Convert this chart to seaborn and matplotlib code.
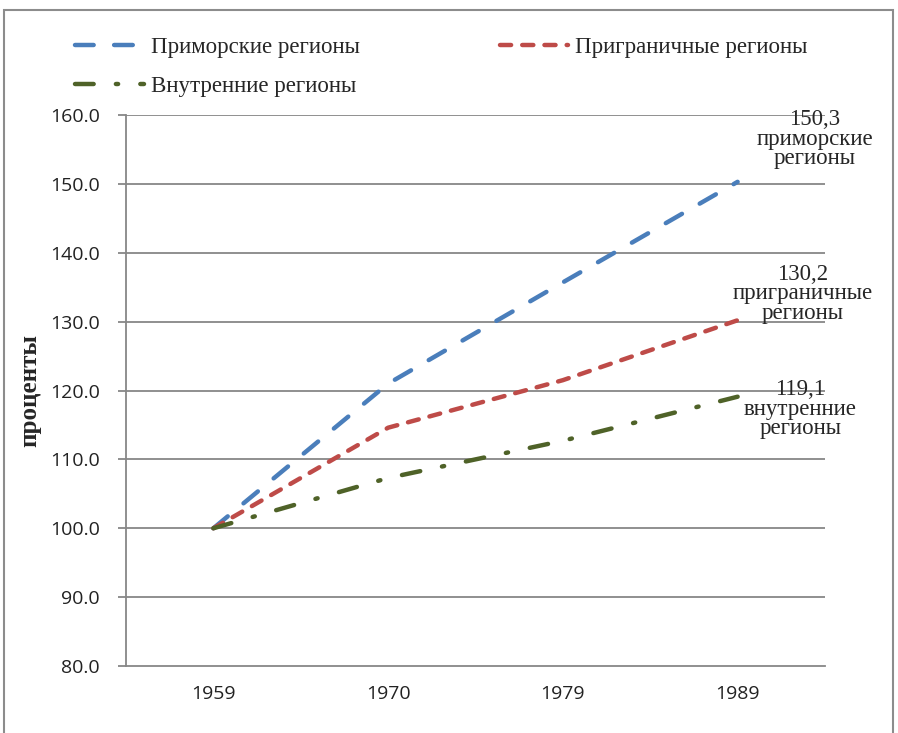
import numpy as np
import pandas as pd
import seaborn as sns
import matplotlib.pyplot as plt
from matplotlib.lines import Line2D
from matplotlib.patches import Rectangle

# data
years = ['1959', '1970', '1979', '1989']
primorskie = [100.0, 121.0, 135.7, 150.3]
pogranichnye = [100.0, 114.6, 121.5, 130.2]
vnutrennie = [100.0, 107.3, 112.7, 119.1]
names = ['Приморские регионы', 'Приграничные регионы', 'Внутренние регионы']
end_labels = ['150,3\nприморские\nрегионы',
              '130,2\nприграничные\nрегионы',
              '119,1\nвнутренние\nрегионы']

colors = ['#4A7EBB', '#BE4B48', '#4F6228']
dash_styles = [(4.2, 4.6), (2.5, 2.5), (4.2, 5.0, 0.5, 5.0)]

sns.set_style('white')
plt.rcParams['font.family'] = ['Open Sans', 'DejaVu Sans']
serif = ['Liberation Serif', 'DejaVu Serif']

pos = np.arange(len(years))
df = pd.DataFrame({
    'pos': np.tile(pos, 3),
    'value': primorskie + pogranichnye + vnutrennie,
    'region': np.repeat(names, len(years)),
})

fig = plt.figure(figsize=(8.98, 7.33), dpi=100)
ax = fig.add_axes([0.1403, 0.0914, 0.7784, 0.7517])

grid_c = '#878787'
for v in np.arange(90, 161, 10):
    ax.axhline(v, color=grid_c, lw=1.3, zorder=0)

sns.lineplot(data=df, x='pos', y='value', hue='region', style='region',
             palette=dict(zip(names, colors)),
             dashes=dict(zip(names, dash_styles)),
             lw=3.2, dash_capstyle='round', legend=False, ax=ax)

ax.set_xlim(-0.5, 3.5)
ax.set_ylim(80, 160)
ax.set_yticks(np.arange(80, 161, 10))
ax.set_yticklabels([f'{v:.1f}' for v in np.arange(80, 161, 10)], fontsize=14, color='#222222')
ax.set_xticks(pos)
ax.set_xticklabels(years, fontsize=14, color='#222222')
ax.set_xticks(np.arange(-0.5, 3.6, 1), minor=True)
ax.tick_params(axis='x', which='major', length=0, pad=14)
ax.tick_params(axis='x', which='minor', length=6, color=grid_c, width=1.3, direction='out')
ax.tick_params(axis='y', length=6, color=grid_c, width=1.3, direction='out', left=True, pad=13)
ax.set_xlabel('')
ax.set_ylabel('проценты', family=serif, fontweight='bold', fontsize=18, labelpad=6)

for s in ['top', 'right']:
    ax.spines[s].set_visible(False)
for s in ['left', 'bottom']:
    ax.spines[s].set_color(grid_c)
    ax.spines[s].set_linewidth(1.3)

# end-of-line labels
label_xy = [(3.44, 160.8), (3.37, 138.4), (3.36, 121.6)]
for (x, y), txt in zip(label_xy, end_labels):
    ax.text(x, y, txt, ha='center', va='top', ma='center', family=serif,
            fontsize=16.5, linespacing=0.9, clip_on=False)

handles = [Line2D([0], [0], color=c, lw=3.2, dashes=d, dash_capstyle='round')
           for c, d in zip(colors, dash_styles)]
# matplotlib fills legend columns first, reorder so rows read like the original
order = [0, 2, 1]
fig.legend([handles[i] for i in order], [names[i] for i in order],
           loc='upper left', bbox_to_anchor=(0.084, 0.95),
           ncol=2, frameon=False, prop={'family': serif, 'size': 16.5},
           handlelength=3.0, handletextpad=0.3, columnspacing=6.1,
           labelspacing=0.78, borderpad=0, borderaxespad=0)

fig.patches.append(Rectangle((4 / 898, -0.01), 889 / 898, 1 - 10 / 733 + 0.01,
                             transform=fig.transFigure, fill=False,
                             edgecolor='#8c8c8c', lw=1.5))

fig.savefig('out.png', dpi=100)
